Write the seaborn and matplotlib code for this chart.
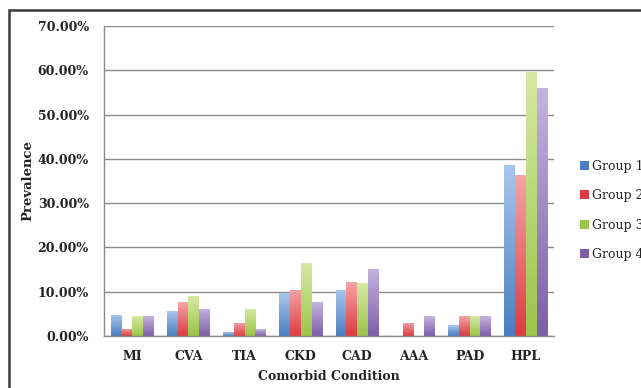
import numpy as np
import pandas as pd
import matplotlib
matplotlib.use("Agg")
import matplotlib.pyplot as plt
from matplotlib.colors import LinearSegmentedColormap
from matplotlib.patches import Rectangle
from matplotlib.ticker import FixedLocator, FuncFormatter
import seaborn as sns

conditions = ["MI", "CVA", "TIA", "CKD", "CAD", "AAA", "PAD", "HPL"]
groups = ["Group 1", "Group 2", "Group 3", "Group 4"]
group1 = [4.8, 5.6, 0.9, 9.7, 10.5, 0.0, 2.4, 38.6]
group2 = [1.6, 7.6, 3.0, 10.5, 12.1, 3.0, 4.5, 36.3]
group3 = [4.5, 9.1, 6.1, 16.4, 11.9, 0.0, 4.5, 59.7]
group4 = [4.5, 6.1, 1.5, 7.6, 15.2, 4.5, 4.5, 56.1]
y_ticks = [0, 10, 20, 30, 40, 50, 60, 70]

dark = ["#4a7ec0", "#dc3c42", "#9cc44a", "#7d5fa9"]
light = ["#a9c6ec", "#f5a4a6", "#d6e9a2", "#c4b3df"]

df = pd.DataFrame({
    "Condition": np.repeat(conditions, len(groups)),
    "Group": groups * len(conditions),
    "Prevalence": np.column_stack([group1, group2, group3, group4]).ravel(),
})

sns.set_style("white")
plt.rcParams["font.family"] = ["DejaVu Serif"]

fig = plt.figure(figsize=(6.41, 3.88), dpi=100)
ax = fig.add_axes([104 / 641, 1 - 336 / 388, (554 - 104) / 641, (336 - 26) / 388])

sns.barplot(data=df, x="Condition", y="Prevalence", hue="Group",
            order=conditions, hue_order=groups, palette=dark,
            width=0.76, gap=0.0, saturation=1, legend=False, ax=ax)

# vertical shading inside each bar, light at the top and darker at the base
for i, container in enumerate(ax.containers):
    cmap = LinearSegmentedColormap.from_list(f"g{i}", [dark[i], light[i]])
    grad = np.linspace(0, 1, 64).reshape(-1, 1)
    for bar in container:
        x0, y0 = bar.get_x(), bar.get_y()
        w, h = bar.get_width(), bar.get_height()
        if h <= 0:
            continue
        im = ax.imshow(grad, cmap=cmap, origin="lower", aspect="auto",
                       extent=[x0, x0 + w, y0, y0 + h], zorder=bar.get_zorder() + 0.1)
        im.set_clip_path(bar)
        bar.set_edgecolor("none")

ax.set_xlim(-0.5, len(conditions) - 0.5)
ax.set_ylim(0, 70)

ax.yaxis.set_major_locator(FixedLocator(y_ticks))
ax.yaxis.set_major_formatter(FuncFormatter(lambda v, p: f"{v:.2f}%"))
ax.grid(axis="y", color="#8c8c8c", linewidth=1.0)
ax.set_axisbelow(True)

for s in ["top", "right"]:
    ax.spines[s].set_visible(False)
for s in ["left", "bottom"]:
    ax.spines[s].set_color("#8c8c8c")
    ax.spines[s].set_linewidth(1.0)

ax.set_xticks(np.arange(-0.5, len(conditions)), minor=True)
ax.tick_params(axis="x", which="major", length=0, pad=10, labelsize=9, labelcolor="#222222")
ax.tick_params(axis="x", which="minor", length=5, color="#8c8c8c", width=1)
ax.tick_params(axis="y", which="major", length=5, color="#8c8c8c", width=1,
               labelsize=9, labelcolor="#222222", pad=6)
for lab in ax.get_yticklabels() + ax.get_xticklabels():
    lab.set_fontweight("bold")

ax.set_xlabel("Comorbid Condition", fontsize=9, fontweight="bold", color="#222222", labelpad=5)
ax.set_ylabel("Prevalence", fontsize=9.5, fontweight="bold", color="#222222", labelpad=2)

handles = [Rectangle((0, 0), 1, 1, facecolor=c, edgecolor="none") for c in dark]
fig.legend(handles, groups, loc="upper left", bbox_to_anchor=(580 / 641, 1 - 160 / 388),
           frameon=False, prop={"size": 9, "family": "DejaVu Serif"},
           handlelength=0.75, handleheight=0.75,
           handletextpad=0.25, labelspacing=1.3, borderaxespad=0, borderpad=0)

# outer chart frame, running past the right and bottom edges
fig.patches.append(Rectangle((9 / 641, -0.05), 1.0, 1 - 10 / 388 + 0.05,
                             transform=fig.transFigure, fill=False,
                             edgecolor="#3a3a3a", linewidth=1.8))

fig.savefig("out.png", dpi=100)
